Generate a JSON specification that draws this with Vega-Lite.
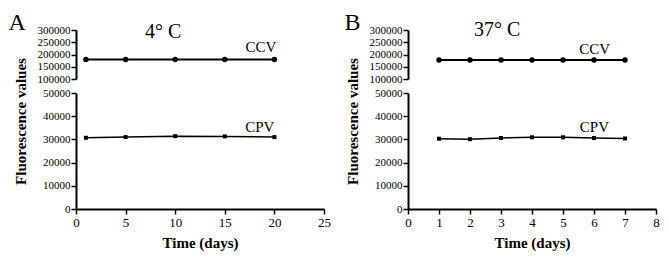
{
  "$schema": "https://vega.github.io/schema/vega-lite/v6.json",
  "padding": {"left": 8, "top": 10, "right": 5, "bottom": 5},
  "background": "white",
  "config": {
    "view": {"stroke": null},
    "font": "Liberation Serif",
    "style": {
      "guide-label": {"font": "Liberation Serif", "fill": "black"},
      "guide-title": {"font": "Liberation Serif", "fill": "black"}
    },
    "axis": {
      "domainColor": "black", "domainWidth": 2, "tickColor": "black", "tickWidth": 1.5, "tickSize": 5,
      "labelColor": "black", "labelFont": "Liberation Serif", "labelFontSize": 11, "labelPadding": 1,
      "titleColor": "black", "titleFont": "Liberation Serif", "titleFontSize": 15, "titleFontWeight": "bold",
      "grid": false, "labelOverlap": false, "labelFlush": false, "format": "d"
    },
    "title": {"font": "Liberation Serif", "fontWeight": "normal", "color": "black"}
  },
  "bounds": "flush",
  "columns": 2,
  "spacing": {"row": 14, "column": 84},
  "concat": [
    {
      "width": 248, "height": 49,
      "title": {"text": "4° C", "anchor": "start", "frame": "group", "dx": 69, "dy": 48, "offset": 0, "baseline": "alphabetic", "fontSize": 20, "font": "Liberation Serif"},
      "encoding": {
        "x": {"field": "day", "type": "quantitative", "scale": {"domain": [0, 25]}, "axis": null},
        "y": {"field": "value", "type": "quantitative", "scale": {"domain": [100000, 300000]},
          "axis": {"values": [100000, 150000, 200000, 250000, 300000], "labelFont": "Liberation Serif", "titleFont": "Liberation Serif", "title": "A", "titleAngle": 0, "titleAlign": "left", "titleBaseline": "alphabetic", "titleX": -68, "titleY": -1, "titleFontSize": 24, "titleFontWeight": "normal"}}
      },
      "layer": [
        {"data": {"values": [{"day": 1, "value": 180000}, {"day": 5, "value": 180000}, {"day": 10, "value": 180000}, {"day": 15, "value": 180000}, {"day": 20, "value": 180000}]},
          "layer": [
            {"mark": {"type": "line", "color": "black", "strokeWidth": 2}},
            {"mark": {"type": "point", "shape": "circle", "filled": true, "color": "black", "opacity": 1, "size": 30}}
          ]},
        {"data": {"values": [{"day": 20, "value": 180000, "label": "CCV"}]},
          "mark": {"type": "text", "align": "right", "baseline": "alphabetic", "dx": 2, "dy": -7, "fontSize": 15, "font": "Liberation Serif", "color": "black"},
          "encoding": {"text": {"field": "label"}}}
      ]
    },
    {
      "width": 248, "height": 49,
      "title": {"text": "37° C", "anchor": "start", "frame": "group", "dx": 66, "dy": 46, "offset": 0, "baseline": "alphabetic", "fontSize": 20, "font": "Liberation Serif"},
      "encoding": {
        "x": {"field": "day", "type": "quantitative", "scale": {"domain": [0, 8]}, "axis": null},
        "y": {"field": "value", "type": "quantitative", "scale": {"domain": [100000, 300000]},
          "axis": {"values": [100000, 150000, 200000, 250000, 300000], "labelFont": "Liberation Serif", "titleFont": "Liberation Serif", "title": "B", "titleAngle": 0, "titleAlign": "left", "titleBaseline": "alphabetic", "titleX": -64, "titleY": -1, "titleFontSize": 24, "titleFontWeight": "normal"}}
      },
      "layer": [
        {"data": {"values": [{"day": 1, "value": 178000}, {"day": 2, "value": 178000}, {"day": 3, "value": 178000}, {"day": 4, "value": 178000}, {"day": 5, "value": 178000}, {"day": 6, "value": 178000}, {"day": 7, "value": 178000}]},
          "layer": [
            {"mark": {"type": "line", "color": "black", "strokeWidth": 2}},
            {"mark": {"type": "point", "shape": "circle", "filled": true, "color": "black", "opacity": 1, "size": 30}}
          ]},
        {"data": {"values": [{"day": 7, "value": 178000, "label": "CCV"}]},
          "mark": {"type": "text", "align": "right", "baseline": "alphabetic", "dx": -15, "dy": -6, "fontSize": 15, "font": "Liberation Serif", "color": "black"},
          "encoding": {"text": {"field": "label"}}}
      ]
    },
    {
      "width": 248, "height": 116,
      "encoding": {
        "x": {"field": "day", "type": "quantitative", "scale": {"domain": [0, 25]},
          "axis": {"values": [0, 5, 10, 15, 20, 25], "labelFont": "Liberation Serif", "titleFont": "Liberation Serif", "title": "Time (days)", "labelFontSize": 13, "labelPadding": 2, "titlePadding": 6}},
        "y": {"field": "value", "type": "quantitative", "scale": {"domain": [0, 50000]},
          "axis": {"values": [0, 10000, 20000, 30000, 40000, 50000], "labelFont": "Liberation Serif", "titleFont": "Liberation Serif", "title": "Fluorescence values", "titleX": -48, "titleY": 28}}
      },
      "layer": [
        {"data": {"values": [{"day": 1, "value": 30700}, {"day": 5, "value": 31000}, {"day": 10, "value": 31400}, {"day": 15, "value": 31300}, {"day": 20, "value": 31000}]},
          "layer": [
            {"mark": {"type": "line", "color": "black", "strokeWidth": 1.5}},
            {"mark": {"type": "point", "shape": "square", "filled": true, "color": "black", "opacity": 1, "size": 16}}
          ]},
        {"data": {"values": [{"day": 20, "value": 31000, "label": "CPV"}]},
          "mark": {"type": "text", "align": "right", "baseline": "alphabetic", "dx": 0, "dy": -5, "fontSize": 15, "font": "Liberation Serif", "color": "black"},
          "encoding": {"text": {"field": "label"}}}
      ]
    },
    {
      "width": 248, "height": 116,
      "encoding": {
        "x": {"field": "day", "type": "quantitative", "scale": {"domain": [0, 8]},
          "axis": {"values": [0, 1, 2, 3, 4, 5, 6, 7, 8], "labelFont": "Liberation Serif", "titleFont": "Liberation Serif", "title": "Time (days)", "labelFontSize": 13, "labelPadding": 2, "titlePadding": 6}},
        "y": {"field": "value", "type": "quantitative", "scale": {"domain": [0, 50000]},
          "axis": {"values": [0, 10000, 20000, 30000, 40000, 50000], "labelFont": "Liberation Serif", "titleFont": "Liberation Serif", "title": "Fluorescence values", "titleX": -48, "titleY": 28}}
      },
      "layer": [
        {"data": {"values": [{"day": 1, "value": 30300}, {"day": 2, "value": 30100}, {"day": 3, "value": 30600}, {"day": 4, "value": 30900}, {"day": 5, "value": 30900}, {"day": 6, "value": 30600}, {"day": 7, "value": 30400}]},
          "layer": [
            {"mark": {"type": "line", "color": "black", "strokeWidth": 1.5}},
            {"mark": {"type": "point", "shape": "square", "filled": true, "color": "black", "opacity": 1, "size": 16}}
          ]},
        {"data": {"values": [{"day": 7, "value": 30400, "label": "CPV"}]},
          "mark": {"type": "text", "align": "right", "baseline": "alphabetic", "dx": -16, "dy": -6, "fontSize": 15, "font": "Liberation Serif", "color": "black"},
          "encoding": {"text": {"field": "label"}}}
      ]
    }
  ]
}
